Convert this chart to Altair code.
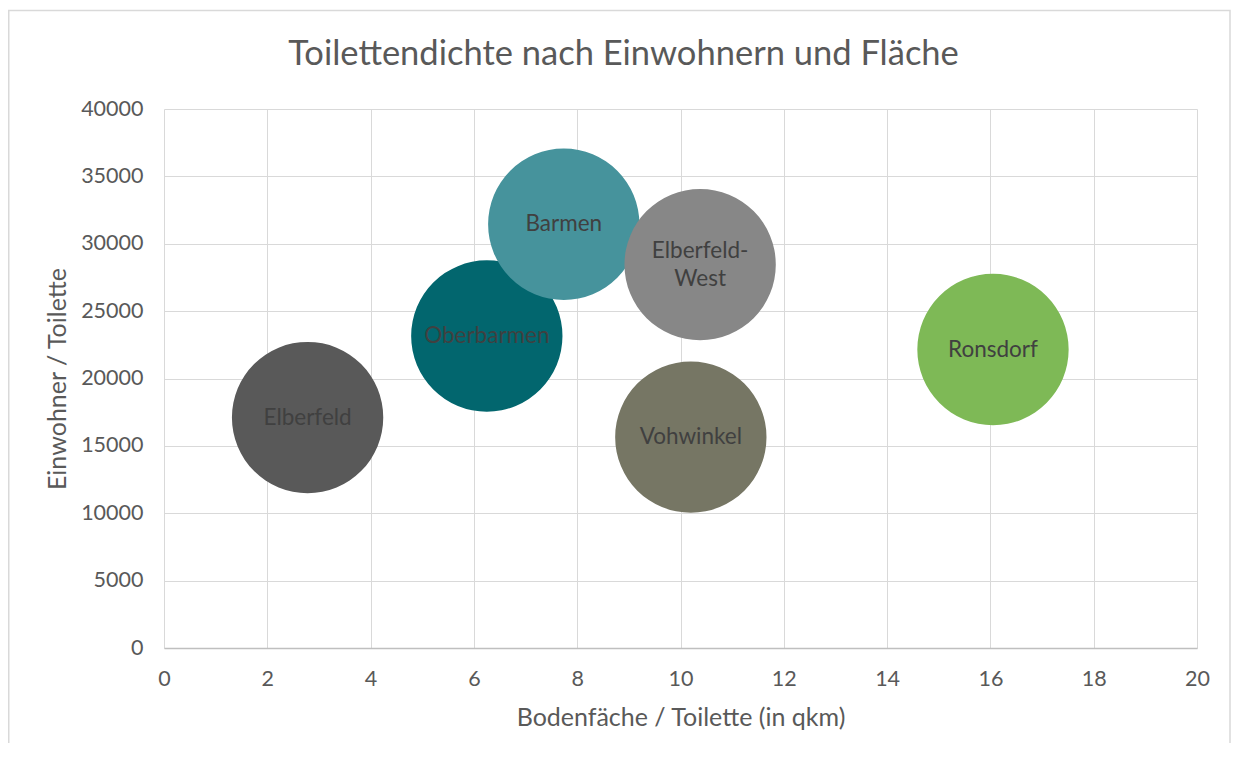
import altair as alt
import pandas as pd

# data
districts = ["Elberfeld", "Oberbarmen", "Barmen", "Elberfeld-West", "Vohwinkel", "Ronsdorf"]
area_per_toilet = [2.78, 6.25, 7.74, 10.38, 10.2, 16.05]
residents_per_toilet = [17100, 23150, 31450, 28450, 15650, 22150]
labels = ["Elberfeld", "Oberbarmen", "Barmen", "Elberfeld-\nWest", "Vohwinkel", "Ronsdorf"]
colors = ["#595959", "#02666E", "#46939C", "#878787", "#767664", "#7EB956"]

x_ticks = list(range(0, 21, 2))
y_ticks = list(range(0, 40001, 5000))

df = pd.DataFrame({
    "district": districts,
    "x": area_per_toilet,
    "y": residents_per_toilet,
    "label": labels,
})

FONT = "Lato"
W, H = 1033, 539
PAD_L, PAD_T, PAD_R, PAD_B = 156, 101, 34, 95

xs = alt.X("x:Q", scale=alt.Scale(domain=[0, 20], nice=False, zero=True),
           axis=alt.Axis(values=x_ticks, title="Bodenfäche / Toilette (in qkm)",
                         grid=True, gridColor="#d9d9d9", tickSize=0,
                         domainColor="#bfbfbf", domainWidth=1.5, labelFlush=False,
                         labelPadding=20, titlePadding=16))
ys = alt.Y("y:Q", scale=alt.Scale(domain=[0, 40000], nice=False),
           axis=alt.Axis(values=y_ticks, title="Einwohner / Toilette",
                         grid=True, gridColor="#d9d9d9", tickSize=0,
                         domain=False, labelPadding=21, titlePadding=10,
                         labelFlush=False, format="d"))

bubbles = alt.Chart(df).mark_circle(opacity=1, size=22900, strokeWidth=0).encode(
    x=xs, y=ys,
    color=alt.Color("district:N", scale=alt.Scale(domain=districts, range=colors), legend=None),
)

text_style = dict(font=FONT, fontSize=22.5, color="#404040", lineBreak="\n", lineHeight=28)

texts_single = alt.Chart(df).transform_filter(
    "indexof(datum.label, '\\n') < 0"
).mark_text(**text_style).encode(x="x:Q", y="y:Q", text="label:N")

texts_multi = alt.Chart(df).transform_filter(
    "indexof(datum.label, '\\n') >= 0"
).mark_text(dy=-14, **text_style).encode(x="x:Q", y="y:Q", text="label:N")

frame = alt.Chart(pd.DataFrame({"a": [0]})).mark_rect(
    fill=None, stroke="#d9d9d9", strokeWidth=1.5, clip=False
).encode(
    x=alt.value(-PAD_L + 0.75), x2=alt.value(W + PAD_R - 1),
    y=alt.value(-PAD_T + 2.5), y2=alt.value(H + PAD_B + 20),
)

chart = alt.layer(frame, bubbles, texts_single, texts_multi).properties(
    width=W, height=H,
    autosize=alt.AutoSizeParams(type="none"),
    padding={"left": PAD_L, "top": PAD_T, "right": PAD_R, "bottom": PAD_B},
    title=alt.TitleParams("Toilettendichte nach Einwohnern und Fläche",
                          font=FONT, fontSize=34.5, fontWeight="normal",
                          color="#595959", anchor="middle", dx=-57,
                          baseline="alphabetic", offset=-89.5),
).configure_axis(
    labelFont=FONT, labelFontSize=21.5, labelColor="#595959",
    titleFont=FONT, titleFontSize=25, titleColor="#595959", titleFontWeight="normal",
).configure_view(stroke=None)

chart.save("out.html", embed_options={"renderer": "svg", "actions": False})
